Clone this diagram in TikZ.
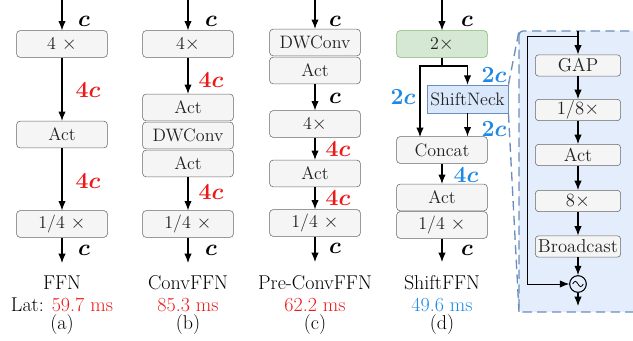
\documentclass[tikz,border=0pt]{standalone}
\usepackage{amsmath}
\usepackage{amssymb}
\usetikzlibrary{arrows.meta}
\definecolor{boxfill}{HTML}{F5F5F5}
\definecolor{boxline}{HTML}{666666}
\definecolor{boxtext}{HTML}{222222}
\definecolor{gfill}{HTML}{D5E8D4}
\definecolor{gline}{HTML}{82B366}
\definecolor{bfill}{HTML}{DAE8FC}
\definecolor{bline}{HTML}{6C8EBF}
\definecolor{pfill}{HTML}{E4EDFB}
\definecolor{myred}{RGB}{235,25,25}
\definecolor{myblue}{RGB}{30,136,229}
\begin{document}
\begin{tikzpicture}[x=0.75pt,y=-0.75pt,
blk/.style={shape=rectangle,rounded corners=2.5pt,draw=boxline,fill=boxfill,text=boxtext,minimum width=68pt,minimum height=20pt,inner sep=0pt,font=\fontsize{13.5}{15}\selectfont},
blkS/.style={blk,minimum height=16pt,minimum width=64pt,font=\fontsize{14}{15}\selectfont},
blkG/.style={blk,draw=gline,fill=gfill},
blkB/.style={blk,draw=bline,fill=bfill,rounded corners=0pt,minimum width=61pt,minimum height=21pt},
arr/.style={-{Latex[length=7pt,width=5.5pt]},line width=0.8pt},
chan/.style={font=\fontsize{18}{20}\selectfont\boldmath,inner sep=1pt},
capt/.style={font=\fontsize{15}{17}\selectfont}]
\clip (0,0) rectangle (633,341);
\def\ya{283};
\def\yb{305};
\def\yc{325};

% (a) FFN
\coordinate (a0) at (62,0);
\node[blk] (a1) at (62,44) {4 $\times$};
\node[blk] (a2) at (62,134.5) {Act};
\node[blk] (a3) at (62,224) {1/4 $\times$};
\coordinate (a4) at (62,263);
\draw[arr] (a0) -- (a1.north);
\draw[arr] (a1.south) -- (a2.north);
\draw[arr] (a2.south) -- (a3.north);
\draw[arr] (a3.south) -- (a4);
\node[chan] at (84,21) {$c$};
\node[chan,text=myred] at (88,90) {$4c$};
\node[chan,text=myred] at (88,181) {$4c$};
\node[chan] at (84,250) {$c$};
\node[capt] at (62,\ya) {FFN};
\node[capt] at (62,\yb) {Lat: \textcolor{myred}{59.7 ms}};
\node[capt] at (62,\yc) {(a)};

% (b) ConvFFN
\coordinate (b0) at (188,0);
\node[blk] (b1) at (188,44) {4$\times$};
\node[blk] (b2) at (188,107.5) {Act};
\node[blk] (b3) at (188,135.5) {DWConv};
\node[blk] (b4) at (188,163.5) {Act};
\node[blk] (b5) at (188,224) {1/4 $\times$};
\coordinate (b6) at (188,263);
\draw[arr] (b0) -- (b1.north);
\draw[arr] (b1.south) -- (b2.north);
\draw[arr] (b4.south) -- (b5.north);
\draw[arr] (b5.south) -- (b6);
\node[chan] at (211,21) {$c$};
\node[chan,text=myred] at (211,80) {$4c$};
\node[chan,text=myred] at (211,192) {$4c$};
\node[chan] at (211,250) {$c$};
\node[capt] at (188,\ya) {ConvFFN};
\node[capt,text=myred] at (188,\yb) {85.3 ms};
\node[capt] at (188,\yc) {(b)};

% (c) Pre-ConvFFN
\coordinate (c0) at (315,0);
\node[blk] (c1) at (315,42.5) {DWConv};
\node[blk] (c2) at (315,70.5) {Act};
\node[blk] (c3) at (315,124) {4$\times$};
\node[blk] (c4) at (315,173.5) {Act};
\node[blk] (c5) at (315,223) {1/4 $\times$};
\coordinate (c6) at (315,262);
\draw[arr] (c0) -- (c1.north);
\draw[arr] (c2.south) -- (c3.north);
\draw[arr] (c3.south) -- (c4.north);
\draw[arr] (c4.south) -- (c5.north);
\draw[arr] (c5.south) -- (c6);
\node[chan] at (335,21) {$c$};
\node[chan] at (335,98) {$c$};
\node[chan,text=myred] at (338,149) {$4c$};
\node[chan,text=myred] at (338,198) {$4c$};
\node[chan] at (335,248) {$c$};
\node[capt] at (315,\ya) {Pre-ConvFFN};
\node[capt,text=myred] at (315,\yb) {62.2 ms};
\node[capt] at (315,\yc) {(c)};

% (d) ShiftFFN
\coordinate (d0) at (442,0);
\node[blkG] (d1) at (442,44) {2$\times$};
\coordinate (dj) at (442,66);
\node[blkB] (sn) at (467.5,99) {ShiftNeck};
\node[blk] (d2) at (442,150) {Concat};
\node[blk] (d3) at (442,197.5) {Act};
\node[blk] (d4) at (442,225) {1/4 $\times$};
\coordinate (d5) at (442,262);
\draw[arr] (d0) -- (d1.north);
\draw[line width=0.8pt] (d1.south) -- (dj);
\draw[arr] (dj) -| (420,137);
\draw[arr] (dj) -| (sn.north);
\draw[arr] (sn.south) -- (sn.south |- d2.north);
\draw[arr] (d2.south) -- (d3.north);
\draw[arr] (d4.south) -- (d5);
\node[chan] at (467,21) {$c$};
\node[chan,text=myblue] at (403,97) {$2c$};
\node[chan,text=myblue] at (494,75) {$2c$};
\node[chan,text=myblue] at (494,129) {$2c$};
\node[chan,text=myblue] at (466,175) {$4c$};
\node[chan] at (467,250) {$c$};
\node[capt] at (442,\ya) {ShiftFFN};
\node[capt,text=myblue] at (442,\yb) {49.6 ms};
\node[capt] at (442,\yc) {(d)};

% ShiftNeck detail
\draw[bline,dashed,dash pattern=on 7pt off 4pt,line width=1pt,fill=pfill,rounded corners=3pt] (519,31) rectangle (650,312);
\draw[bline,dashed,dash pattern=on 7pt off 4pt,line width=1pt] (sn.north east) -- (519,31);
\draw[bline,dashed,dash pattern=on 7pt off 4pt,line width=1pt] (sn.south east) -- (519,312);
\coordinate (p0) at (578,31);
\coordinate (pj) at (578,36);
\node[blkS] (p1) at (578,65.5) {GAP};
\node[blkS] (p2) at (578,110) {1/8$\times$};
\node[blkS] (p3) at (578,155) {Act};
\node[blkS] (p4) at (578,201) {8$\times$};
\node[blkS] (p5) at (578,246.5) {Broadcast};
\node[shape=circle,draw=black,line width=0.8pt,minimum size=12.5pt,inner sep=0pt] (pm) at (578,284) {};
\draw[line width=0.6pt] ([xshift=-4pt]pm.center) sin ([xshift=-2pt,yshift=2pt]pm.center) cos (pm.center) sin ([xshift=2pt,yshift=-2pt]pm.center) cos ([xshift=4pt]pm.center);
\coordinate (p6) at (578,306);
\draw[arr] (p0) -- (p1.north);
\draw[arr,line width=0.6pt] (pj) -- (527,36) -- (527,284) -- (pm.west);
\draw[arr] (p1.south) -- (p2.north);
\draw[arr] (p2.south) -- (p3.north);
\draw[arr] (p3.south) -- (p4.north);
\draw[arr] (p4.south) -- (p5.north);
\draw[arr] (p5.south) -- (pm.north);
\draw[arr] (pm.south) -- (p6);
\end{tikzpicture}
\end{document}
